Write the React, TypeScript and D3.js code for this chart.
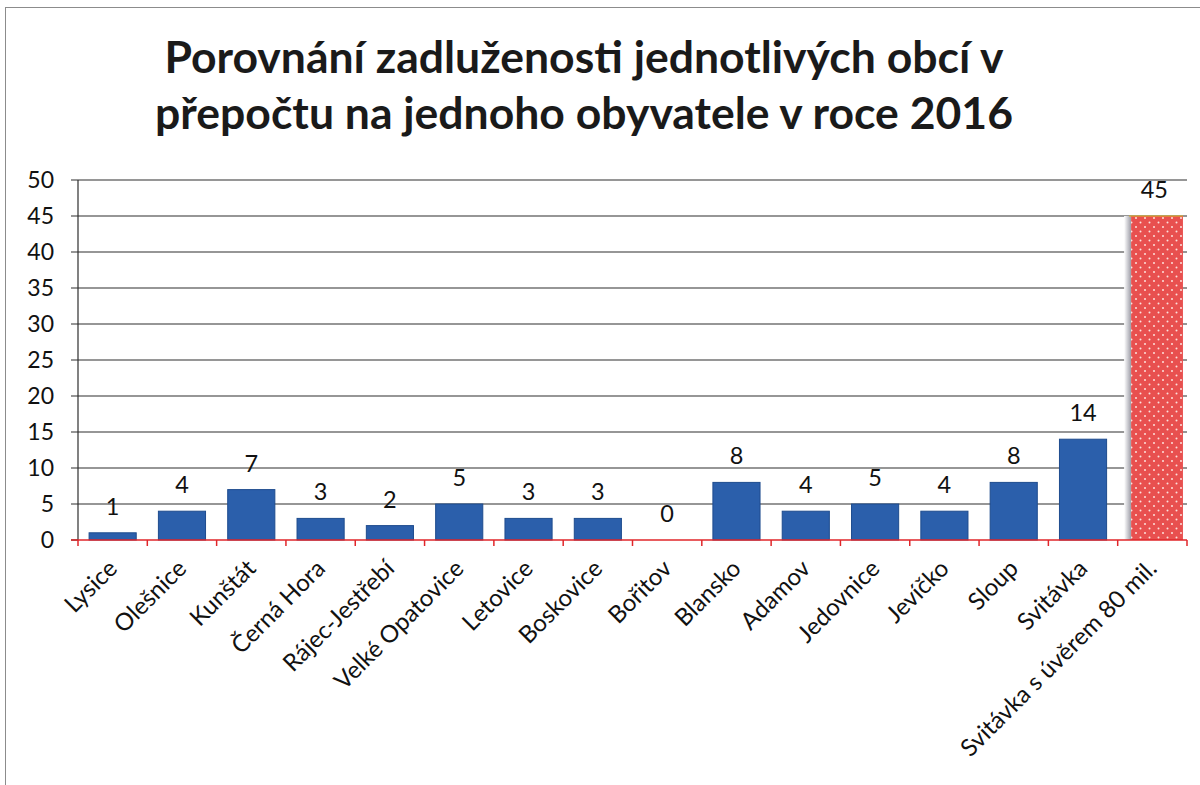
import React from "react";
import * as d3 from "d3";

const categories = [
  "Lysice", "Olešnice", "Kunštát", "Černá Hora", "Rájec-Jestřebí", "Velké Opatovice",
  "Letovice", "Boskovice", "Bořitov", "Blansko", "Adamov", "Jedovnice", "Jevíčko",
  "Sloup", "Svitávka", "Svitávka s úvěrem 80 mil.",
];
const values = [1, 4, 7, 3, 2, 5, 3, 3, 0, 8, 4, 5, 4, 8, 14, 45];
const highlighted = [false, false, false, false, false, false, false, false, false, false, false, false, false, false, false, true];
const yTicks = [0, 5, 10, 15, 20, 25, 30, 35, 40, 45, 50];
const titleLines = [
  "Porovnání zadluženosti jednotlivých obcí v",
  "přepočtu na jednoho obyvatele v roce 2016",
];

const W = 1200, H = 785;
const plot = { left: 78, right: 1187, top: 180, bottom: 540 };
const FONT = "Lato, 'Open Sans', sans-serif";

export default function App() {
  const x = d3.scaleBand<string>().domain(categories).range([plot.left, plot.right]).paddingInner(0.32).paddingOuter(0.16);
  const xEdge = d3.scaleLinear().domain([0, categories.length]).range([plot.left, plot.right]);
  const y = d3.scaleLinear().domain([0, 50]).range([plot.bottom, plot.top]);

  return (
    <svg width={W} height={H} style={{ position: "absolute", left: 0, top: 0, background: "#fff" }}>
      <defs>
        <pattern id="dots" width={9} height={9} patternUnits="userSpaceOnUse">
          <rect width={9} height={9} fill="#e8504f" />
          <circle cx={2} cy={2} r={1} fill="#fde0dc" />
          <circle cx={6.5} cy={6.5} r={1} fill="#fde0dc" />
        </pattern>
        <linearGradient id="shadow" x1="0" x2="1" y1="0" y2="0">
          <stop offset="0" stopColor="#ffffff" />
          <stop offset="1" stopColor="#9c9ca6" />
        </linearGradient>
      </defs>
      <rect x={5.5} y={7.5} width={1300} height={900} fill="#fff" stroke="#8c8c8c" strokeWidth={1} />

      {titleLines.map((t, i) => (
        <text key={i} x={584} y={73 + i * 56} textAnchor="middle" fontFamily={FONT} fontWeight={700} fontSize={44.5} fill="#1a1a1a">
          {t}
        </text>
      ))}

      {/* gridlines */}
      {yTicks.map((t) => (
        <g key={t}>
          {t > 0 && (
            <line x1={plot.left - 7} x2={plot.right} y1={y(t)} y2={y(t)} stroke="#2e2e2e" strokeWidth={1.2} />
          )}
          <text x={54} y={y(t) + 8} textAnchor="end" fontFamily={FONT} fontSize={23} fill="#111">{t}</text>
        </g>
      ))}
      <line x1={plot.left - 7} x2={plot.left} y1={y(0)} y2={y(0)} stroke="#2e2e2e" strokeWidth={1.2} />
      <line x1={plot.left} x2={plot.left} y1={plot.top} y2={plot.bottom} stroke="#2e2e2e" strokeWidth={1.2} />

      {/* bars */}
      {categories.map((c, i) => {
        const v = values[i];
        const bx = x(c)!;
        const bw = x.bandwidth();
        if (highlighted[i]) {
          const rx = bx + bw * 0.06 - 0.5;
          const rw = bw * 1.1;
          return (
            <g key={c}>
              <rect x={rx - 7} y={y(v)} width={7} height={y(0) - y(v)} fill="url(#shadow)" />
              <rect x={rx} y={y(v)} width={rw} height={y(0) - y(v)} fill="url(#dots)" />
              <line x1={rx - 2} x2={rx + rw} y1={y(v)} y2={y(v)} stroke="#e0b020" strokeWidth={1} />
            </g>
          );
        }
        return v > 0 ? (
          <rect key={c} x={bx} y={y(v)} width={bw} height={y(0) - y(v)} fill="#2b5fab" stroke="#1e4c8e" strokeWidth={1} />
        ) : null;
      })}

      {/* data labels */}
      {categories.map((c, i) => (
        <text key={c} x={x(c)! + x.bandwidth() / 2 + (highlighted[i] ? 2 : 0)} y={y(values[i]) - 18} textAnchor="middle" fontFamily={FONT} fontSize={23.5} fill="#111">
          {values[i]}
        </text>
      ))}

      {/* x axis */}
      <line x1={plot.left - 7} x2={plot.right} y1={y(0)} y2={y(0)} stroke="#e0262a" strokeWidth={1.5} />
      {d3.range(categories.length + 1).map((k) => (
        <line key={k} x1={xEdge(k)} x2={xEdge(k)} y1={y(0)} y2={y(0) + 6} stroke="#e0262a" strokeWidth={1.5} />
      ))}
      {categories.map((c) => (
        <text key={c} transform={`translate(${x(c)! + x.bandwidth() / 2 + 6},${plot.bottom + 30}) rotate(-45)`} textAnchor="end" fontFamily={FONT} fontSize={24} fill="#111">
          {c}
        </text>
      ))}
    </svg>
  );
}
